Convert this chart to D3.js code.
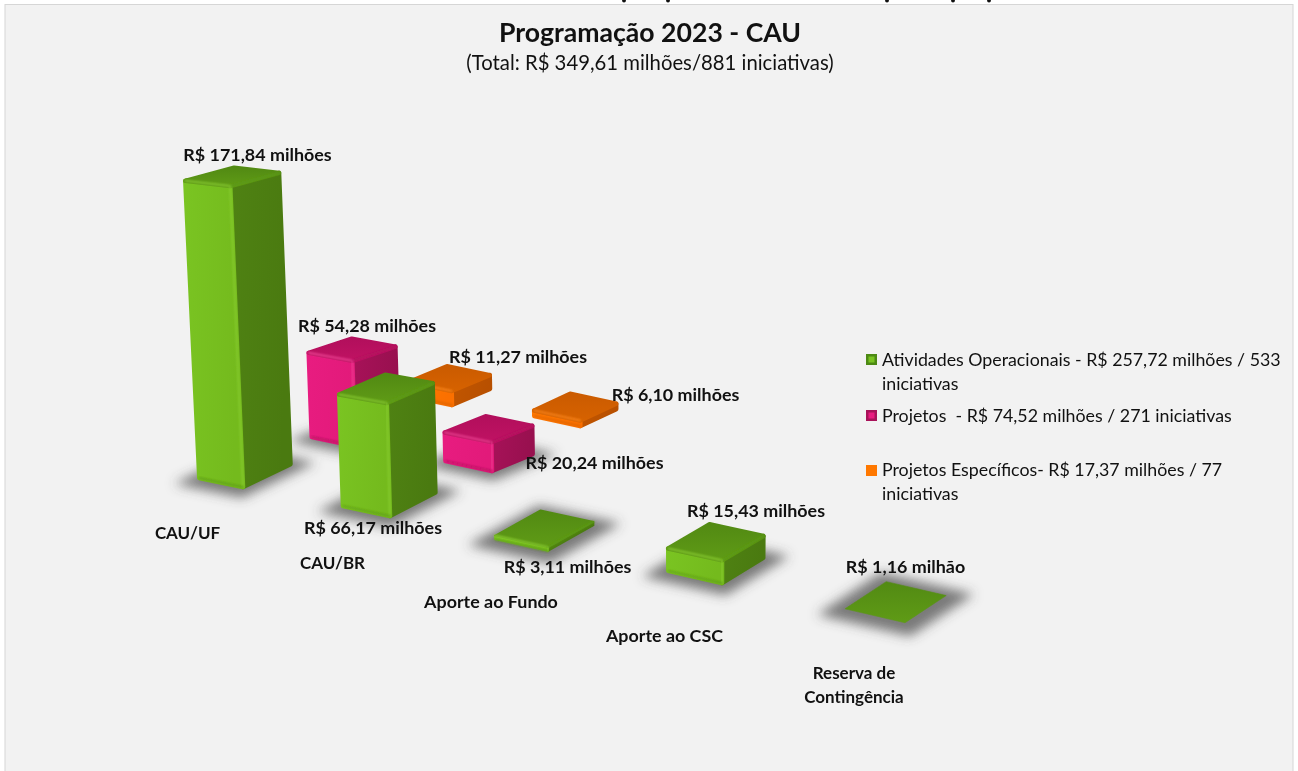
<!DOCTYPE html>
<html lang="pt-BR"><head><meta charset="utf-8">
<style>html,body{margin:0;padding:0;background:#fff;overflow:hidden}svg{display:block}text{font-family:Lato,"Open Sans",sans-serif;fill:#111}</style>
<script src="https://cdn.jsdelivr.net/npm/d3@7/dist/d3.min.js"></script></head><body>
<script>
const categories=["CAU/UF","CAU/BR","Aporte ao Fundo","Aporte ao CSC","Reserva de Contingência"];
const seriesNames=["Atividades Operacionais","Projetos","Projetos Específicos"];
const atividades=[171.84,66.17,3.11,15.43,1.16];
const projetos=[54.28,20.24];
const especificos=[11.27,6.10];
const legendTexts=[["Atividades Operacionais - R$ 257,72 milhões / 533","iniciativas"],["Projetos  - R$ 74,52 milhões / 271 iniciativas"],["Projetos Específicos- R$ 17,37 milhões / 77","iniciativas"]];
const title="Programação 2023 - CAU";
const subtitle="(Total: R$ 349,61 milhões/881 iniciativas)";

const W=1298,H=771;
const svg=d3.select("body").append("svg").attr("width",W).attr("height",H);
const defs=svg.append("defs");
defs.append("filter").attr("id","sh").attr("x","-50%").attr("y","-100%").attr("width","200%").attr("height","300%").append("feGaussianBlur").attr("stdDeviation",6);
defs.append("filter").attr("id","soft").attr("x","-20%").attr("y","-20%").attr("width","140%").attr("height","140%").append("feGaussianBlur").attr("stdDeviation",0.8);

const palette=[
 {left:["#7ac422","#74ba1d"],right:["#4f8213","#4a7a10"],top:["#528a13","#5f9b16"],hi:"#8ed234",lo:"#5c9a14",shadow:true},
 {left:["#e81c80","#e21a7a"],right:["#a81259","#98104f"],top:["#b20f5c","#c01263"],hi:"#f2499a",lo:"#b0125c",shadow:true},
 {left:["#ff7800","#fb7000"],right:["#c25600","#b85000"],top:["#cb5b00","#d66200"],hi:"#ff8a20",lo:"#d86200",shadow:false}];
palette.forEach((p,i)=>["left","right","top"].forEach(f=>{
 const g=defs.append("linearGradient").attr("id",`g${i}${f}`).attr("x1",0).attr("y1",0).attr("x2",f==="top"?0:1).attr("y2",f==="top"?1:0.2);
 g.append("stop").attr("offset",0).attr("stop-color",p[f][0]);
 g.append("stop").attr("offset",1).attr("stop-color",p[f][1]);
}));

// page background, remains of the slide title cut by the top edge, panel
const cutMarks=d3.scaleOrdinal().domain(d3.range(5)).range([624,668,887,953,989]);
svg.selectAll("ellipse.cut").data(d3.range(5)).join("ellipse").attr("class","cut")
 .attr("cx",d=>cutMarks(d)).attr("cy",0).attr("rx",2).attr("ry",2.6).attr("fill","#111");
svg.append("rect").attr("x",5).attr("y",4.5).attr("width",1288).attr("height",H).attr("fill","#f2f2f2").attr("stroke","#d6d6d6").attr("stroke-width",1);

// floor projection
const catX=d3.scaleLinear().domain([0,1,2,3,4]).range([243,390,548,722,905]);
const catY=d3.scaleLinear().domain([0,1,2,3,4]).range([489,518,551,585,623]);
const hScale=d3.scaleLinear().domain([1,171.84]).range([0,304]);
const leanScale=d3.scaleLinear().domain([700,1700]).range([0,0.093]);
const flatten=d3.scaleLinear().domain([0,304]).range([1,0.57]);

function boxGeometry(c,s,v){
 let h=hScale(v)*(s?0.93:1);
 const round=h>6;              // thick boxes get a wide round stroke, so the frame is pulled in
 const inset=round?0.95:1;
 const F=[catX(c)+(112-10*c)*Math.pow(s,0.9),catY(c)-s*(41+4*c)-(round?2:0)];
 if(round) h-=3;
 const L=[-(46+3.5*c-0.5*s)*inset,-(9.5+1.1*c)*inset];
 const R=[(50-2.2*c-5*s)*inset,(-(24+0.8*c)+(s?7:0))*inset];
 const add=(a,b)=>[a[0]+b[0],a[1]+b[1]];
 const base={f:F,l:add(F,L),r:add(F,R),b:add(add(F,L),R)};
 const k=flatten(h);
 const leanX=x=>x+h*leanScale(x);
 const fTop=[leanX(F[0]),F[1]-h];
 const lTop=[leanX(base.l[0]),fTop[1]+L[1]*k];
 const rTop=[leanX(base.r[0]),fTop[1]+R[1]*k];
 const bTop=[leanX(base.b[0]),fTop[1]+(L[1]+R[1])*k];
 return {c,s,v,h,round,base,top:{f:fTop,l:lTop,r:rTop,b:bTop}};
}
const series=[atividades,projetos,especificos];
const boxes=[];
[2,1,0].forEach(s=>series[s].forEach((v,c)=>boxes.push(boxGeometry(c,s,v))));
const pts=a=>a.map(p=>p.join(",")).join(" ");

const shadows=svg.append("g").attr("filter","url(#sh)");
const line=d3.line();
const body=svg.append("g");
boxes.forEach(b=>{
 const p=palette[b.s],B=b.base,T=b.top;
 if(p.shadow){
  const cx=(B.l[0]+B.r[0])/2,cy=(B.f[1]+B.b[1])/2,k=1.55;
  const sc=q=>[cx+(q[0]-cx)*k,cy+(q[1]-cy)*k+2];
  shadows.append("polygon").attr("points",pts([B.f,B.r,B.b,B.l].map(sc))).attr("fill","#4c4c4c").attr("opacity",.72);
 }
 const g=body.append("g").attr("stroke-linejoin","round");
 const sw=b.round?4.5:(b.h>1?1.5:0.6);
 const face=(arr,f)=>g.append("polygon").attr("points",pts(arr)).attr("fill",`url(#g${b.s}${f})`).attr("stroke",`url(#g${b.s}${f})`).attr("stroke-width",sw);
 if(b.h>0.5){
  face([T.f,T.r,B.r,B.f],"right");
  face([T.l,T.f,B.f,B.l],"left");
 }
 face([T.l,T.f,T.r,T.b],"top");
 if(b.h>2){
  const bevel=(a,col,w)=>g.append("path").attr("d",line(a)).attr("fill","none").attr("stroke",col).attr("stroke-width",w).attr("stroke-linecap","round").attr("filter","url(#soft)");
  bevel([T.l,T.f],p.hi,1.6);
  if(b.s<2) bevel([T.f,T.r],p.lo,1.6);
  if(b.s<2) bevel([T.f,B.f],p.hi,1.2);
  bevel([B.l,B.f],p.lo,1.4);
 }
});

// text
function txt(x,y,s,size,weight,anchor){
 return svg.append("text").attr("x",x).attr("y",y).attr("font-size",size).attr("font-weight",weight).attr("text-anchor",anchor||"start").text(s);
}
const nf=d3.formatLocale({decimal:",",thousands:".",grouping:[3],currency:["R$ ",""]}).format(",.2f");
const valueLabel=v=>`R$ ${nf(v)} ${v<2?"milhão":"milhões"}`;
txt(650,42,title,26.6,700,"middle");
txt(650,70,subtitle,20.3,400,"middle");

const valueAnchors=[ // [series, category, text centre x, baseline]
 [0,0,257.5,161],[1,0,367,332],[2,0,518,363],[2,1,675.5,401],[1,1,594.5,469],
 [0,1,373,534],[0,2,567.5,573],[0,3,756,517],[0,4,905.5,573]];
valueAnchors.forEach(([s,c,x,y])=>txt(x,y,valueLabel(series[s][c]),17.9,700,"middle"));

const catAnchors=[[187.5,539],[332.5,569],[491,608],[664.5,642]];
catAnchors.forEach(([x,y],i)=>txt(x,y,categories[i],i<2?17:17.9,700,"middle"));
const rc=categories[4].split(" ");
txt(854,679,rc.slice(0,2).join(" "),17,700,"middle");
txt(854,703,rc[2],17,700,"middle");

// legend
const legendY=[[366,390],[422],[476,500]];
const legendMark=[["#4d8a14","#7ac422"],["#a81259","#e81c80"],["#ff7800","#ff7800"]];
const markY=[354,410,465];
legendTexts.forEach((ls,i)=>{
 svg.append("rect").attr("x",866).attr("y",markY[i]).attr("width",11).attr("height",11).attr("fill",legendMark[i][0]);
 svg.append("rect").attr("x",868.5).attr("y",markY[i]+2.5).attr("width",6).attr("height",6).attr("fill",legendMark[i][1]);
 ls.forEach((l,j)=>txt(882,legendY[i][j],l,17.8,400).style("white-space","pre"));
});
</script></body></html>
